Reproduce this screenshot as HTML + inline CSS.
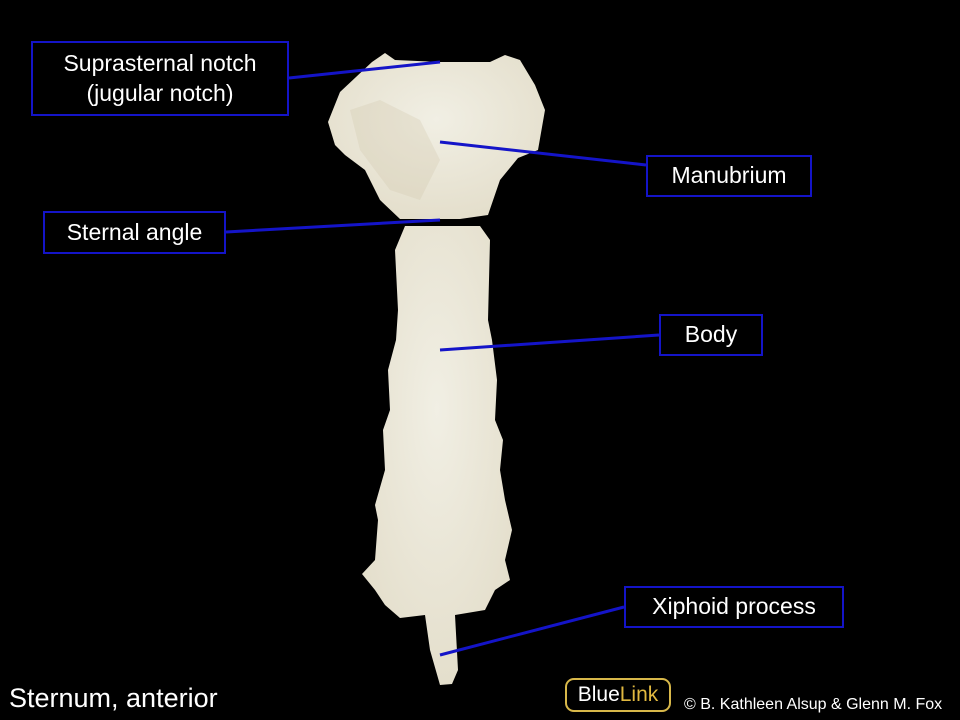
<!DOCTYPE html><html><head><style>
body{margin:0;background:#000;width:960px;height:720px;overflow:hidden;font-family:"Liberation Sans",sans-serif}
.b{position:absolute;border:2px solid #1414c8;color:#fff;font-size:23px;display:flex;align-items:center;justify-content:center;text-align:center;line-height:1.3;box-sizing:border-box;background:#000}
</style></head><body>
<svg width="960" height="720" style="position:absolute;left:0;top:0">
<defs><radialGradient id="g" cx="50%" cy="40%" r="70%"><stop offset="0" stop-color="#f1efe4"/><stop offset="1" stop-color="#e2dcc8"/></radialGradient></defs>
<path fill="url(#g)" d="M372,62 L385,53 L395,60 L440,62 L490,62 L505,55 L520,60 L535,85 L545,110 L538,150 L518,158 L500,180 L488,215 L460,219 L400,219 L380,200 L365,170 L345,155 L335,145 L328,122 L340,92 Z"/>
<path fill="#cfc7ad" opacity="0.3" d="M350,110 L380,100 L420,120 L440,160 L420,200 L390,190 L360,150 Z"/>
<path fill="url(#g)" d="M405,226 L480,226 L490,240 L488,320 L492,340 L497,380 L495,420 L503,440 L500,470 L505,500 L512,530 L505,560 L510,580 L495,590 L485,610 L455,615 L458,670 L452,684 L440,685 L430,650 L425,615 L400,618 L385,605 L375,590 L362,574 L375,560 L378,520 L375,505 L385,470 L383,430 L390,410 L388,370 L396,340 L398,310 L395,250 Z"/>
<g stroke="#1414c8" stroke-width="3">
<line x1="289" y1="78" x2="440" y2="62"/>
<line x1="646" y1="165" x2="440" y2="142"/>
<line x1="226" y1="232" x2="440" y2="220"/>
<line x1="659" y1="335" x2="440" y2="350"/>
<line x1="624" y1="607" x2="440" y2="655"/>
</g></svg>
<div class="b" style="left:31px;top:41px;width:258px;height:75px">Suprasternal notch<br>(jugular notch)</div>
<div class="b" style="left:646px;top:155px;width:166px;height:42px">Manubrium</div>
<div class="b" style="left:43px;top:211px;width:183px;height:43px">Sternal angle</div>
<div class="b" style="left:659px;top:314px;width:104px;height:42px">Body</div>
<div class="b" style="left:624px;top:586px;width:220px;height:42px">Xiphoid process</div>
<div style="position:absolute;left:9px;top:683px;color:#fff;font-size:27px">Sternum, anterior</div>
<div style="position:absolute;left:565px;top:678px;width:106px;height:34px;border:2px solid #d8b84a;border-radius:9px;box-sizing:border-box;color:#fff;font-size:21px;display:flex;align-items:center;justify-content:center">Blue<span style="color:#e0b840">Link</span></div>
<div style="position:absolute;left:684px;top:696px;color:#fff;font-size:16px">© B. Kathleen Alsup &amp; Glenn M. Fox</div>
</body></html>
